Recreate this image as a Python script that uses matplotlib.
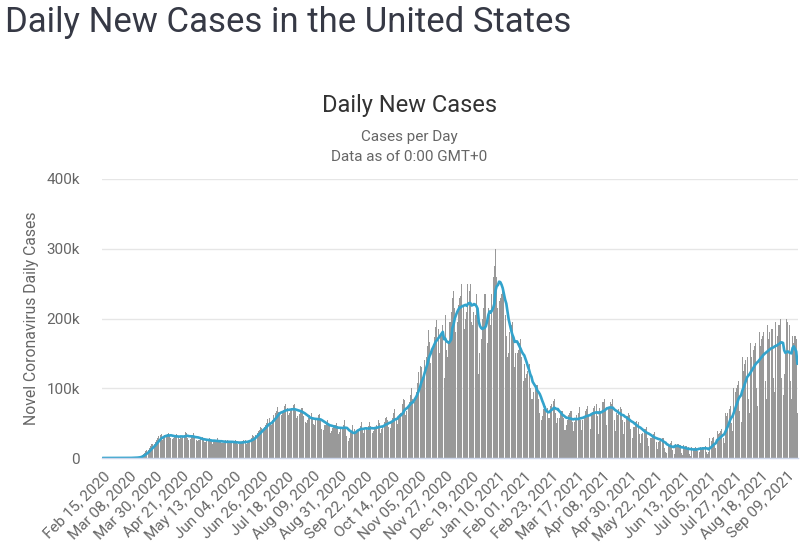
import numpy as np
import pandas as pd
import matplotlib
matplotlib.use("Agg")
import matplotlib.pyplot as plt

plt.rcParams['font.family'] = ['Roboto', 'DejaVu Sans']

# Daily new cases (thousands), one value per day starting Sat Feb 15, 2020
cases_2020 = [
    0, 0, 0, 0, 0, 0.01, 0,
    0, 0, 0.01, 0.01, 0, 0.01, 0.02,
    0.02, 0.01, 0.03, 0.03, 0.04, 0.07, 0.1,
    0.1, 0.12, 0.2, 0.27, 0.36, 0.45, 0.59,
    0.72, 0.95, 1.3, 1.8, 3.0, 4.9, 6.4,
    7.6, 9.8, 11.1, 11.0, 13.7, 17.6, 19.5,
    20.5, 20.0, 22.5, 26.5, 28.5, 31.5, 33.5,
    34.0, 26.5, 30.5, 32.5, 33.5, 34.5, 36.0,
    32.0, 29.0, 27.5, 29.0, 31.5, 33.0, 35.0,
    31.0, 27.5, 29.5, 28.5, 30.5, 33.5, 37.0,
    35.5, 28.5, 25.5, 27.5, 30.5, 32.5, 36.0,
    30.5, 26.5, 24.5, 25.5, 26.0, 29.5, 29.5,
    28.0, 23.5, 22.5, 24.0, 24.0, 29.0, 27.5,
    26.0, 20.5, 23.5, 23.0, 23.0, 28.0, 25.5,
    24.5, 21.0, 21.5, 21.5, 22.0, 25.5, 26.5,
    25.0, 21.0, 21.5, 21.0, 21.5, 23.0, 26.0,
    23.5, 19.5, 20.0, 21.0, 22.5, 24.5, 26.5,
    25.5, 20.5, 22.0, 24.5, 26.5, 29.0, 32.5,
    32.0, 28.0, 33.5, 36.0, 38.5, 40.5, 45.0,
    43.5, 41.0, 44.5, 47.0, 50.5, 55.5, 57.0,
    49.5, 47.5, 55.0, 62.0, 64.5, 68.0, 73.0,
    66.0, 61.0, 62.0, 66.0, 69.5, 75.0, 77.0,
    71.0, 62.0, 64.0, 68.0, 71.5, 76.0, 78.0,
    68.0, 58.0, 60.0, 63.0, 69.0, 72.0, 71.0,
    60.0, 52.0, 50.0, 55.0, 58.0, 62.0, 65.0,
    57.0, 48.5, 48.0, 54.0, 56.5, 61.0, 63.0,
    56.0, 42.0, 40.0, 47.0, 48.0, 52.0, 55.0,
    49.0, 36.0, 38.0, 43.0, 45.0, 48.0, 50.0,
    46.0, 34.0, 37.0, 42.0, 45.0, 47.0, 54.0,
    45.0, 32.0, 25.0, 29.0, 37.0, 38.0, 48.0,
    42.0, 35.0, 36.0, 40.0, 42.0, 46.0, 51.0,
    42.0, 36.0, 40.0, 41.0, 40.0, 46.0, 51.0,
    46.0, 35.5, 38.0, 43.0, 43.5, 47.0, 55.0,
    50.0, 36.0, 41.0, 44.0, 51.0, 57.0, 59.0,
    55.0, 45.0, 43.0, 52.0, 58.0, 64.0, 70.0,
    58.0, 49.0, 60.0, 63.0, 64.0, 77.0, 84.0,
    83.0, 61.0, 68.0, 74.0, 80.0, 90.0, 100.0,
    85.0, 80.0, 88.0, 95.0, 108.0, 123.0, 132.0,
    130.0, 110.0, 118.0, 140.0, 145.0, 161.0, 184.0,
    167.0, 136.0, 156.0, 163.0, 173.0, 188.0, 198.0,
    185.0, 150.0, 175.0, 180.0, 190.0, 115.0, 205.0,
    155.0, 145.0, 165.0, 195.0, 210.0, 230.0, 240.0,
    215.0, 180.0, 195.0, 220.0, 230.0, 232.0, 250.0,
    220.0, 185.0, 200.0, 210.0, 250.0, 240.0, 250.0,
    195.0, 190.0, 210.0, 205.0, 235.0, 215.0, 120.0,
    150.0, 170.0, 200.0, 215.0, 235.0, 235.0,
]
cases_2021 = [
    165.0,
    215.0, 205.0, 190.0, 235.0, 260.0, 275.0, 300.0,
    260.0, 215.0, 225.0, 230.0, 235.0, 240.0, 240.0,
    205.0, 175.0, 145.0, 150.0, 180.0, 190.0, 195.0,
    175.0, 130.0, 150.0, 150.0, 155.0, 165.0, 170.0,
    145.0, 110.0, 135.0, 115.0, 120.0, 125.0, 135.0,
    100.0, 85.0, 85.0, 95.0, 100.0, 105.0, 105.0,
    85.0, 65.0, 55.0, 60.0, 70.0, 70.0, 75.0,
    72.0, 57.0, 57.0, 75.0, 78.0, 82.0, 84.0,
    65.0, 50.0, 58.0, 57.0, 66.0, 68.0, 68.0,
    58.0, 40.0, 48.0, 55.0, 62.0, 65.0, 68.0,
    52.0, 38.0, 52.0, 54.0, 62.0, 65.0, 73.0,
    55.0, 40.0, 55.0, 60.0, 68.0, 70.0, 75.0,
    60.0, 42.0, 65.0, 66.0, 72.0, 75.0, 78.0,
    60.0, 35.0, 72.0, 65.0, 80.0, 80.0, 85.0,
    70.0, 48.0, 72.0, 72.0, 80.0, 78.0, 85.0,
    55.0, 38.0, 65.0, 62.0, 70.0, 73.0, 70.0,
    54.0, 34.0, 52.0, 57.0, 60.0, 64.0, 62.0,
    42.0, 28.0, 45.0, 45.0, 52.0, 53.0, 52.0,
    35.0, 22.0, 35.0, 36.0, 42.0, 41.0, 45.0,
    28.0, 17.0, 28.0, 28.0, 32.0, 35.0, 37.0,
    23.0, 13.0, 23.0, 25.0, 27.0, 28.0, 28.0,
    15.0, 8.0, 7.0, 20.0, 19.0, 22.0, 24.0,
    12.0, 6.0, 20.0, 17.0, 20.0, 20.0, 18.0,
    7.0, 5.0, 18.0, 14.0, 17.0, 15.0, 16.0,
    6.0, 3.0, 16.0, 13.0, 15.0, 16.0, 15.0,
    10.0, 8.0, 16.0, 15.0, 16.0, 16.0, 17.0,
    9.0, 6.0, 8.0, 28.0, 24.0, 28.0, 30.0,
    18.0, 14.0, 38.0, 35.0, 36.0, 38.0, 42.0,
    28.0, 22.0, 65.0, 60.0, 65.0, 70.0, 75.0,
    50.0, 38.0, 100.0, 95.0, 100.0, 105.0, 110.0,
    68.0, 52.0, 145.0, 125.0, 135.0, 140.0, 145.0,
    85.0, 65.0, 165.0, 145.0, 155.0, 160.0, 165.0,
    100.0, 75.0, 180.0, 160.0, 170.0, 175.0, 180.0,
    110.0, 85.0, 190.0, 170.0, 180.0, 185.0, 185.0,
    115.0, 95.0, 195.0, 175.0, 190.0, 190.0, 200.0,
    115.0, 90.0, 120.0, 150.0, 200.0, 195.0, 190.0,
    110.0, 85.0, 175.0, 165.0, 175.0, 170.0, 65.0,
]

start_date = "2020-02-15"
tick_every = 22
y_ticks = [0, 100, 200, 300, 400]
y_tick_labels = ["0", "100k", "200k", "300k", "400k"]

daily = pd.Series(cases_2020 + cases_2021)
dates = pd.date_range(start_date, periods=len(daily), freq="D")
avg7 = daily.rolling(7, min_periods=1).mean()
x = np.arange(len(daily))

fig = plt.figure(figsize=(8.08, 5.44), dpi=100)
ax = fig.add_axes([102/808, 1 - 458/544, 696/808, (458 - 179)/544])

ax.bar(x, daily.values, width=0.85, color="#999999", linewidth=0, zorder=2)
ax.plot(x, avg7.values, color="#33a3cc", linewidth=1.9, zorder=3,
        solid_joinstyle="round", solid_capstyle="round")

ax.set_xlim(-0.5, len(daily) - 0.5)
ax.set_ylim(0, 400)
ax.set_yticks(y_ticks)
ax.set_yticklabels(y_tick_labels)
ax.grid(axis="y", color="#e6e6e6", linewidth=1.0, zorder=0)
ax.set_axisbelow(True)
for side in ["top", "right", "left"]:
    ax.spines[side].set_visible(False)
ax.spines["bottom"].set_color("#ccd6eb")
ax.spines["bottom"].set_linewidth(1.0)
ax.spines["bottom"].set_zorder(4)

tick_pos = x[::tick_every]
ax.set_xticks(tick_pos)
ax.set_xticklabels([d.strftime("%b %d, %Y") for d in dates[::tick_every]],
                   rotation=45, ha="right", rotation_mode="anchor")
ax.tick_params(axis="x", length=0, pad=8, labelsize=11, labelcolor="#666666")
ax.tick_params(axis="y", length=0, pad=16, labelsize=11, labelcolor="#666666")

fig.text(0.0395, 0.415, "Novel Coronavirus Daily Cases", rotation=90,
         ha="center", va="center", fontsize=11.3, color="#666666")

fig.text(5/808, 1 - 32/544, "Daily New Cases in the United States",
         ha="left", va="baseline", fontsize=25, color="#363945")
fig.text(409/808, 1 - 112/544, "Daily New Cases", ha="center",
         va="baseline", fontsize=17, color="#333333")
fig.text(409/808, 1 - 141/544, "Cases per Day", ha="center",
         va="baseline", fontsize=11, color="#666666")
fig.text(409/808, 1 - 161/544, "Data as of 0:00 GMT+0", ha="center",
         va="baseline", fontsize=11, color="#666666")

fig.savefig("out.png", dpi=100)
